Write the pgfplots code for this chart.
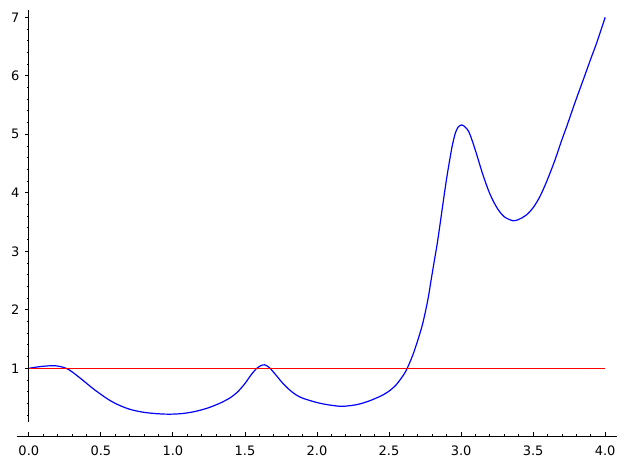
\documentclass[border=0pt]{standalone}
\usepackage{fontspec}
\setmainfont{DejaVu Sans}
\usepackage{pgfplots}
\pgfplotsset{compat=1.18}
\pgfplotstableread{
x y
0.00 1.000
0.05 1.020
0.10 1.035
0.167 1.045
0.21 1.035
0.26 1.000
0.30 0.940
0.35 0.845
0.40 0.745
0.45 0.645
0.50 0.555
0.55 0.470
0.60 0.400
0.65 0.345
0.70 0.300
0.78 0.255
0.87 0.228
0.968 0.216
1.06 0.226
1.15 0.260
1.24 0.320
1.323 0.400
1.36 0.445
1.40 0.500
1.45 0.600
1.50 0.740
1.54 0.880
1.58 0.995
1.61 1.045
1.636 1.060
1.66 1.030
1.682 0.980
1.72 0.870
1.763 0.744
1.81 0.630
1.856 0.544
1.90 0.490
1.95 0.450
2.00 0.415
2.05 0.388
2.10 0.368
2.17 0.350
2.24 0.365
2.295 0.390
2.36 0.440
2.40 0.480
2.45 0.535
2.50 0.610
2.55 0.720
2.60 0.885
2.626 1.000
2.665 1.227
2.70 1.484
2.734 1.769
2.769 2.167
2.792 2.510
2.815 2.850
2.838 3.190
2.878 3.880
2.90 4.250
2.925 4.620
2.94 4.820
2.96 5.020
2.98 5.125
3.005 5.160
3.03 5.120
3.058 5.020
3.10 4.720
3.15 4.320
3.20 3.980
3.25 3.740
3.30 3.590
3.36 3.523
3.40 3.545
3.45 3.615
3.50 3.745
3.55 3.950
3.60 4.230
3.65 4.550
3.70 4.910
3.734 5.140
3.79 5.540
3.849 5.940
3.90 6.290
3.942 6.570
4.00 7.000
}\curve
\pgfplotstableread{
x y
0 1
4 1
}\hline
\begin{document}
\begin{tikzpicture}[x=1pt,y=1pt]
\useasboundingbox (0,0) rectangle (626,470);
\begin{axis}[
  at={(17.3pt,33.7pt)}, anchor=south west,
  scale only axis, width=599.4pt, height=426.3pt,
  xmin=-0.08, xmax=4.08, ymin=-0.162, ymax=7.125,
  axis x line*=bottom, axis y line*=center,
  hide obscured x ticks=false, hide obscured y ticks=false,
  y axis line style={draw=none},
  axis line style={line width=1pt},
  xtick={0,0.5,1,1.5,2,2.5,3,3.5,4},
  xticklabels={0.0,0.5,1.0,1.5,2.0,2.5,3.0,3.5,4.0},
  ytick={1,2,3,4,5,6,7},
  minor xtick={0.1,0.2,0.3,0.4,0.6,0.7,0.8,0.9,1.1,1.2,1.3,1.4,1.6,1.7,1.8,1.9,2.1,2.2,2.3,2.4,2.6,2.7,2.8,2.9,3.1,3.2,3.3,3.4,3.6,3.7,3.8,3.9},
  minor ytick={0.2,0.4,0.6,0.8,1.2,1.4,1.6,1.8,2.2,2.4,2.6,2.8,3.2,3.4,3.6,3.8,4.2,4.4,4.6,4.8,5.2,5.4,5.6,5.8,6.2,6.4,6.6,6.8},
  xtick align=inside, ytick align=outside,
  major tick length=4pt, minor tick length=2pt,
  tick style={line width=0.9pt, black},
  /pgf/number format/assume math mode=true,
  tick label style={font=\fontsize{13}{15}\selectfont},
  xticklabel style={yshift=-6pt},
  yticklabel style={xshift=-2pt},
  clip=false,
]
\addplot[blue, line width=1.2pt, smooth, tension=0.5] table[x=x,y=y]{\curve};
\addplot[red, line width=1.2pt] table[x=x,y=y]{\hline};
\draw[line width=1pt] (axis cs:0,0.087) -- (axis cs:0,7.125);
\end{axis}
\end{tikzpicture}
\end{document}
